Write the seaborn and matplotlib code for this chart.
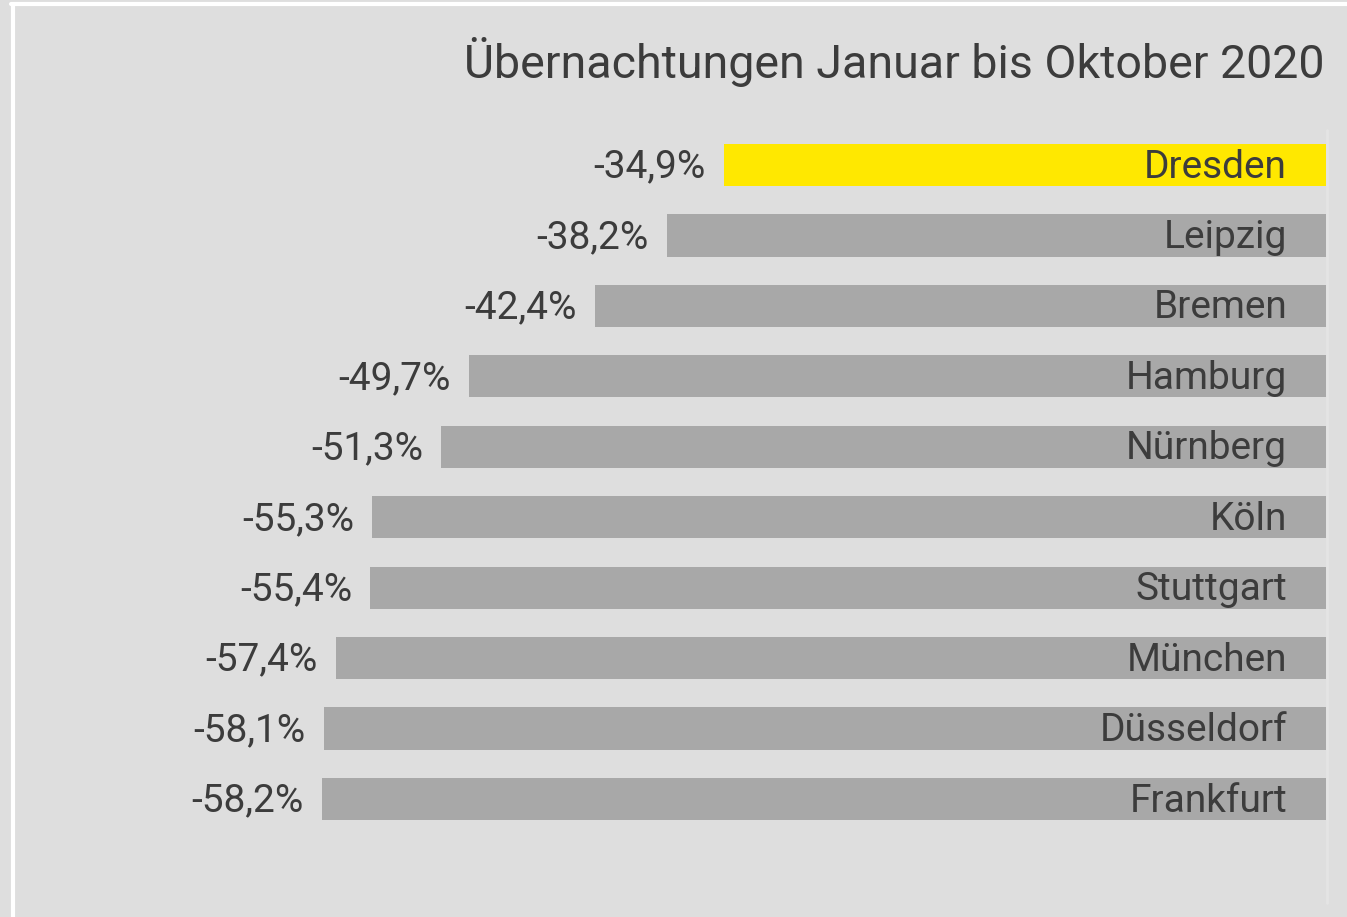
import matplotlib
matplotlib.use("Agg")
import matplotlib.pyplot as plt
import seaborn as sns
from matplotlib.lines import Line2D

# Data
cities = ["Dresden", "Leipzig", "Bremen", "Hamburg", "Nürnberg",
          "Köln", "Stuttgart", "München", "Düsseldorf", "Frankfurt"]
change = [-34.9, -38.2, -42.4, -49.7, -51.3, -55.3, -55.4, -57.4, -58.1, -58.2]
title = "Übernachtungen Januar bis Oktober 2020"

bg = "#dedede"
grey = "#a8a8a8"
yellow = "#ffe800"
txt = "#3c3c3c"
colors = [yellow] + [grey] * (len(cities) - 1)

sns.set_theme(style="white")
plt.rcParams['font.family'] = ['Roboto', 'DejaVu Sans']

fig = plt.figure(figsize=(13.47, 9.17), dpi=100, facecolor=bg)
ax = fig.add_axes([0, 0, 1, 1])
ax.set_facecolor(bg)

sns.barplot(x=change, y=cities, hue=cities, palette=colors, legend=False,
            width=0.6, saturation=1, orient="h", linewidth=0, ax=ax)

# pixel mapping: zero at x=1326, 17.25 px per percent point
ax.set_xlim(-1326 / 17.25, (1347 - 1326) / 17.25)
ax.set_ylim((917 - 165) / 70.44, -165 / 70.44)
ax.axis("off")

# faint baseline at zero
ax.plot([0.05, 0.05], [(130 - 165) / 70.44, (903 - 165) / 70.44], color="#e4e4e4", lw=2)

for i, (c, v) in enumerate(zip(cities, change)):
    lab = f"{v:.1f}%".replace(".", ",")
    ax.annotate(lab, (v, i), xytext=(-13, -1.5), textcoords="offset points",
                ha="right", va="center", fontsize=28, color=txt)
    ax.annotate(c, (0, i), xytext=(-28, -1.5), textcoords="offset points",
                ha="right", va="center", fontsize=28, color=txt)

fig.text(1324 / 1347, 1 - 62 / 917, title, ha="right", va="center",
         fontsize=33.5, color=txt)

# white frame left and top
fig.add_artist(Line2D([12.5 / 1347, 12.5 / 1347], [0, 1 - 3.5 / 917],
                      transform=fig.transFigure, color="white", lw=3))
fig.add_artist(Line2D([11 / 1347, 1], [1 - 3.5 / 917, 1 - 3.5 / 917],
                      transform=fig.transFigure, color="white", lw=3))

fig.savefig("out.png", dpi=100, facecolor=bg)
